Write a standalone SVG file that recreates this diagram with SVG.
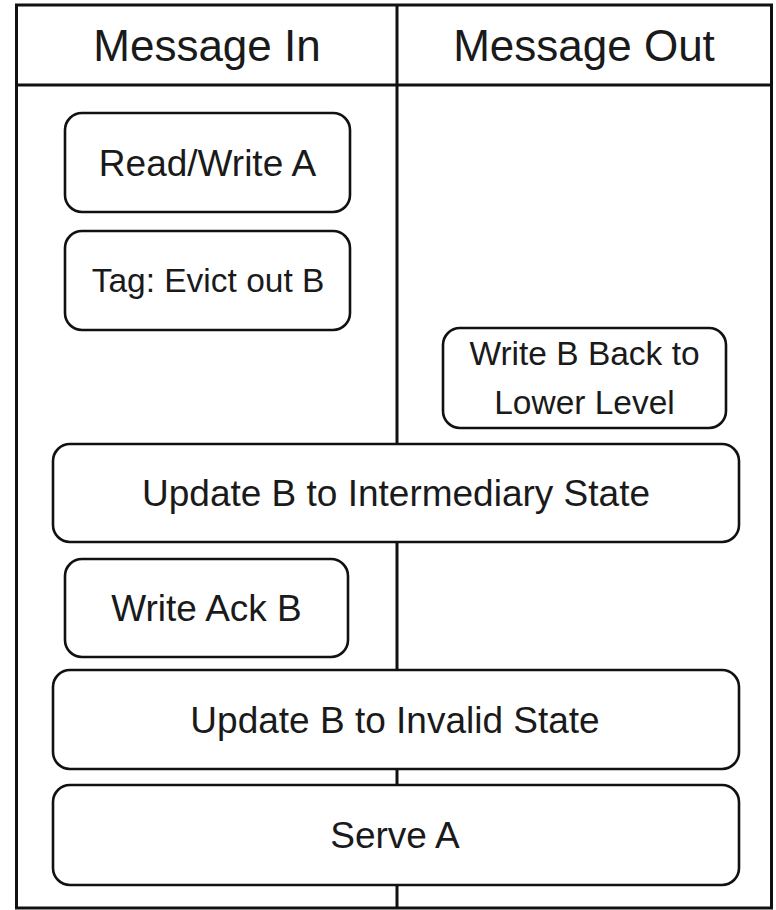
<svg xmlns="http://www.w3.org/2000/svg" width="776" height="910" viewBox="0 0 776 910">
<style>
.frame{fill:none;stroke:#111;stroke-width:3}
.box{fill:#fff;stroke:#111;stroke-width:2.6}
.t{font-family:"Liberation Sans",Arial,sans-serif;fill:#1a1a1a;text-anchor:middle}
.h{font-size:44px}
.b{font-size:37px}
.s{font-size:33.5px}
</style>
<rect width="776" height="910" fill="#fff"/>
<g id="lanes">
<rect class="frame" x="16.5" y="5" width="755" height="903"/>
<line class="frame" x1="16.5" y1="85" x2="771.5" y2="85"/>
<line class="frame" x1="397" y1="5" x2="397" y2="908"/>
<text class="t h" x="207" y="61">Message In</text>
<text class="t h" x="584" y="61">Message Out</text>
</g>
<g id="connectors"/>
<g id="readWriteA">
<rect class="box" x="65" y="113" width="285" height="99" rx="17"/>
<text class="t b" x="207.5" y="176">Read/Write A</text>
</g>
<g id="tagEvict">
<rect class="box" x="65" y="231" width="285" height="99" rx="17"/>
<text class="t s" x="208" y="292">Tag: Evict out B</text>
</g>
<g id="writeBack">
<rect class="box" x="443" y="328" width="283" height="100" rx="17"/>
<text class="t s" x="584.5" y="365">Write B Back to</text>
<text class="t s" x="584.5" y="414">Lower Level</text>
</g>
<g id="updateIntermediary">
<rect class="box" x="53" y="444" width="686" height="98" rx="17"/>
<text class="t b" x="396" y="506">Update B to Intermediary State</text>
</g>
<g id="writeAck">
<rect class="box" x="65" y="559" width="283" height="98" rx="17"/>
<text class="t b" x="206.5" y="621">Write Ack B</text>
</g>
<g id="updateInvalid">
<rect class="box" x="53" y="670" width="686" height="99" rx="17"/>
<text class="t b" x="395" y="733">Update B to Invalid State</text>
</g>
<g id="serveA">
<rect class="box" x="53" y="785" width="686" height="100" rx="17"/>
<text class="t b" x="395" y="848">Serve A</text>
</g>
</svg>
